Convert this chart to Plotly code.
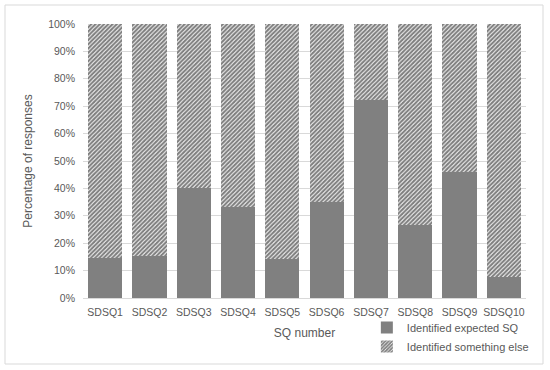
import plotly.graph_objects as go

categories = ["SDSQ1", "SDSQ2", "SDSQ3", "SDSQ4", "SDSQ5", "SDSQ6", "SDSQ7", "SDSQ8", "SDSQ9", "SDSQ10"]
expected = [14.7, 15.4, 40.3, 33.1, 14.1, 34.9, 72.3, 26.6, 45.9, 7.8]
something_else = [100 - v for v in expected]
y_ticks = [0, 10, 20, 30, 40, 50, 60, 70, 80, 90, 100]
y_ticklabels = [f"{t}%" for t in y_ticks]

FONT = "Liberation Sans, Arial, sans-serif"
TXT = "#595959"

fig = go.Figure()
fig.add_trace(go.Bar(
    x=categories, y=expected, name="Identified expected SQ",
    marker=dict(color="#808080", line=dict(width=0)),
))
fig.add_trace(go.Bar(
    x=categories, y=something_else, name="Identified something else",
    marker=dict(color="white", line=dict(width=0),
                pattern=dict(shape="/", fgcolor="#000000", bgcolor="white",
                             size=3, solidity=0.7)),
))

fig.update_layout(
    barmode="stack",
    bargap=0.23,
    width=550, height=370,
    margin=dict(l=83, r=24, t=24, b=72, autoexpand=False),
    paper_bgcolor="white", plot_bgcolor="white",
    font=dict(family=FONT, size=10, color=TXT),
    showlegend=True,
    legend=dict(xref="container", yref="container", x=0.667, y=0.154,
                xanchor="left", yanchor="top",
                traceorder="normal", orientation="v",
                font=dict(size=11, color=TXT), bgcolor="rgba(0,0,0,0)",
                itemwidth=30, tracegroupgap=0),
    xaxis=dict(title=dict(text="SQ number", font=dict(size=12, color=TXT), standoff=12),
               tickfont=dict(size=10.5, color=TXT), tickangle=0, showgrid=False,
               ticklabelstandoff=4,
               showline=True, linecolor="#d9d9d9", linewidth=1, ticks="", automargin=False),
    yaxis=dict(title=dict(text="Percentage of responses", font=dict(size=12, color=TXT), standoff=12),
               range=[0, 100], tickvals=y_ticks, ticktext=y_ticklabels,
               tickfont=dict(size=10.5, color=TXT), showgrid=True, ticklabelstandoff=7,
               gridcolor="#d9d9d9", gridwidth=1, zeroline=False, ticks="", automargin=False),
    shapes=[dict(type="rect", xref="paper", yref="paper",
                 x0=(5 - 83) / 443, x1=(543 - 83) / 443,
                 y0=(298 - 364) / 274, y1=(298 - 5) / 274,
                 line=dict(color="#d9d9d9", width=1), fillcolor="rgba(0,0,0,0)",
                 layer="below")],
)

fig.write_html("out.html", config={"displayModeBar": False},
               post_script="document.body.style.margin='0';document.body.style.overflow='hidden';")
